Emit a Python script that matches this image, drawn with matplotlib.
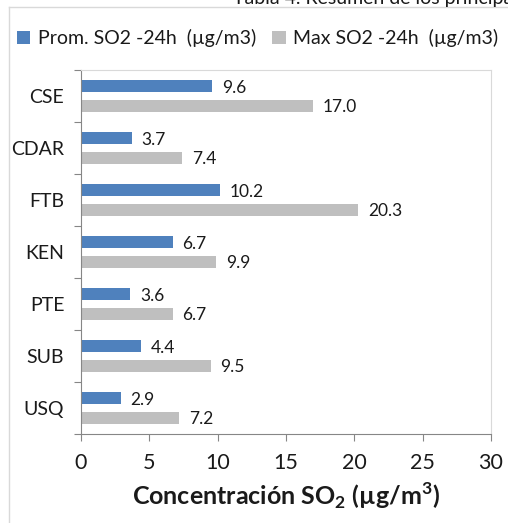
import matplotlib.pyplot as plt
import numpy as np
from matplotlib.lines import Line2D

stations = ['CSE', 'CDAR', 'FTB', 'KEN', 'PTE', 'SUB', 'USQ']
prom_so2 = [9.6, 3.7, 10.2, 6.7, 3.6, 4.4, 2.9]
max_so2 = [17.0, 7.4, 20.3, 9.9, 6.7, 9.5, 7.2]
legend_labels = ['Prom. SO2 -24h  (µg/m3)', 'Max SO2 -24h  (µg/m3)']
x_ticks = [0, 5, 10, 15, 20, 25, 30]

plt.rcParams['font.family'] = ['Lato', 'DejaVu Sans']
plt.rcParams['mathtext.fontset'] = 'custom'
plt.rcParams['mathtext.rm'] = 'Lato'
plt.rcParams['mathtext.bf'] = 'Lato:bold'

blue = '#4F81BD'
gray = '#BFBFBF'
txt = '#1a1a1a'

fig = plt.figure(figsize=(5.08, 5.23), dpi=100)
ax = fig.add_axes([0.1594, 0.1702, 0.8071, 0.696])

y = np.arange(len(stations))
h = 0.23
off = 0.187
b1 = ax.barh(y - off, prom_so2, height=h, color=blue, label=legend_labels[0])
b2 = ax.barh(y + off, max_so2, height=h, color=gray, label=legend_labels[1])

for bars in (b1, b2):
    for bar in bars:
        v = bar.get_width()
        ax.annotate(f'{v:.1f}', (v, bar.get_y() + bar.get_height() / 2),
                    xytext=(7, -1), textcoords='offset points',
                    ha='left', va='center', fontsize=12.5, color=txt)

ax.set_xlim(0, 30)
ax.set_ylim(len(stations) - 0.5, -0.5)
ax.set_xticks(x_ticks)
ax.tick_params(axis='x', labelsize=15.5, length=5, color='#868686', colors=txt, pad=9)

ax.set_yticks(np.arange(len(stations) + 1) - 0.5)
ax.set_yticklabels([])
ax.set_yticks(y, minor=True)
ax.set_yticklabels(stations, minor=True)
ax.tick_params(axis='y', which='major', length=5, color='#868686')
ax.tick_params(axis='y', which='minor', length=0, labelsize=14, colors=txt, pad=12)

for s in ('left', 'bottom'):
    ax.spines[s].set_color('#868686')
for s in ('top', 'right'):
    ax.spines[s].set_color('#D9D9D9')

ax.set_xlabel(r'Concentración SO$_\mathbf{2}$ (µg/m$^\mathbf{3}$)',
              fontsize=18, fontweight='bold', color=txt, labelpad=5)

fig.legend(loc='center', bbox_to_anchor=(0.507, 0.927), ncol=2, frameon=False,
           fontsize=14, handlelength=0.7, handleheight=0.7, handletextpad=0.4,
           columnspacing=0.8, labelcolor=txt)

# outer chart frame (cut off at right/bottom)
fy = 1 - 7 / 523
fx = 9 / 508
fig.add_artist(Line2D([fx, fx], [0, fy], color='#D9D9D9', lw=1))
fig.add_artist(Line2D([fx, 1], [fy, fy], color='#D9D9D9', lw=1))

# caption cut at the top
fig.text(0.458, 0.992, 'Tabla 4. Resumen de los principales', fontsize=14,
         va='baseline', ha='left', color=txt)

fig.savefig('out.png', dpi=100)
